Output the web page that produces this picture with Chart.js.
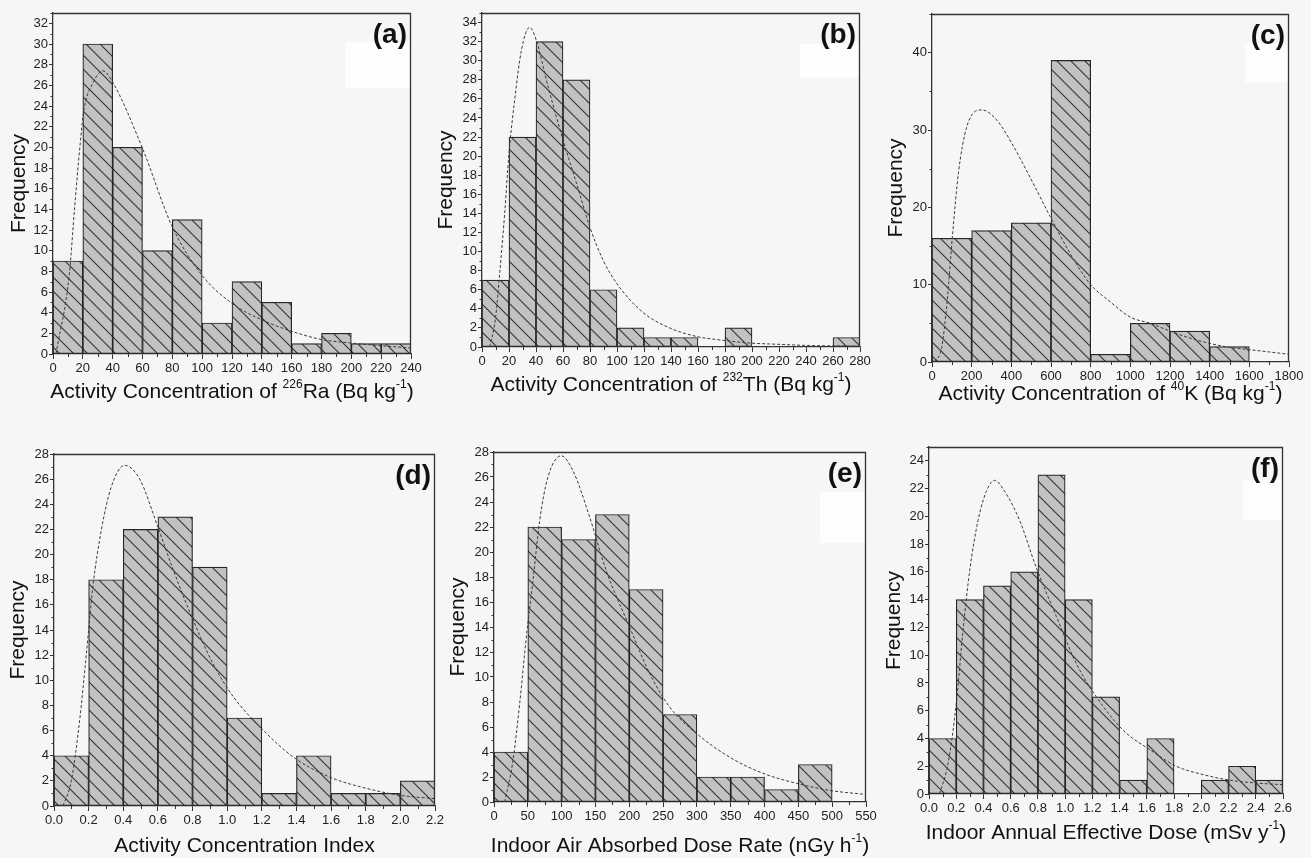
<!DOCTYPE html>
<html><head><meta charset="utf-8">
<script src="https://cdn.jsdelivr.net/npm/chart.js@4.4.1/dist/chart.umd.min.js"></script>
<style>
html,body{margin:0;padding:0;background:#f6f6f6;}
#wrap{position:relative;width:1311px;height:858px;overflow:hidden;background:#f6f6f6;}
canvas{position:absolute;}
</style></head><body><div id="wrap"></div>
<script>
// ---------- DATA ----------
// (a) 226Ra
const raEdges  = [0,20,40,60,80,100,120,140,160,180,200,220,240];
const raCounts = [9,30,20,10,13,3,7,5,1,2,1,1];
const raFitX = [2,11,14.5,18,20.6,27,33.5,40,60,80,100,120,140,160,180,200,220,240];
const raFitY = [0,7.8,14.2,20,23.5,26.3,27.4,26.3,19.9,12.3,7.6,4.9,3.3,2.2,1.4,1.06,0.8,0.58];
const raTitle = [['Activity Concentration of ',0],['226',1],['Ra (Bq kg',0],['-1',1],[')',0]];
// (b) 232Th
const thEdges  = [0,20,40,60,80,100,120,140,160,180,200,220,240,260,280];
const thCounts = [7,22,32,28,6,2,1,1,0,2,0,0,0,1];
const thFitX = [5.7,9.9,13.1,16.8,20,24.2,29.2,35.3,40.3,48.9,60,69.9,79.8,89.7,99.6,119.4,139,159,178.7,198,220,240,280];
const thFitY = [0,2.9,7.7,14,20.3,25.9,31.1,33.5,32.1,27.3,21.7,17.2,12.6,9.1,6.7,3.6,2.0,1.1,0.7,0.42,0.28,0.17,0.07];
const thTitle = [['Activity Concentration of ',0],['232',1],['Th (Bq kg',0],['-1',1],[')',0]];
// (c) 40K
const kEdges  = [0,200,400,600,800,1000,1200,1400,1600,1800];
const kCounts = [16,17,18,39,1,5,4,2,0];
const kFitX = [15,49,77,104,133,175,251,326,402,494,596,697,797,898,1000,1100,1200,1300,1400,1500,1600,1700,1800];
const kFitY = [0,1.9,8,16.6,24.4,30.4,32.6,31.3,28.3,23.9,18.8,14,10.1,7.8,5.8,5.0,4.0,3.1,2.4,1.9,1.6,1.3,1.0];
const kTitle = [['Activity Concentration of ',0],['40',1],['K (Bq kg',0],['-1',1],[')',0]];
// (d) Activity Concentration Index
const dEdges  = [0,0.2,0.4,0.6,0.8,1.0,1.2,1.4,1.6,1.8,2.0,2.2];
const dCounts = [4,18,22,23,19,7,1,4,1,1,2];
const dFitX = [0.052,0.1,0.148,0.187,0.225,0.274,0.331,0.408,0.495,0.592,0.688,0.803,0.919,1.035,1.189,1.381,1.593,1.805,1.998,2.2];
const dFitY = [0,2,6.8,12.1,17.5,22,25.4,27.1,26,22.5,18.8,14.8,11.3,8.7,6.3,3.9,2.3,1.4,0.85,0.58];
const dTitle = [['Activity Concentration Index',0]];
// (e) Indoor Air Absorbed Dose Rate
const eEdges  = [0,50,100,150,200,250,300,350,400,450,500];
const eCounts = [4,22,21,23,17,7,2,2,1,3];
const eFitX = [15.8,28,38,47.8,57.6,67.5,79.8,99.5,116.7,141.4,166,200.5,230,259.6,299,348,397.5,446.8,496,550];
const eFitY = [0,3.3,7.9,13.2,17.7,22.5,26,27.7,26.5,22.8,18.5,14,10.3,7.6,5.5,3.6,2.3,1.5,0.93,0.6];
const eTitle = [['Indoor Air Absorbed Dose Rate (nGy h',0],['-1',1],[')',0]];
// (f) Indoor Annual Effective Dose
const fEdges  = [0,0.2,0.4,0.6,0.8,1.0,1.2,1.4,1.6,1.8,2.0,2.2,2.4,2.6];
const fCounts = [4,14,15,16,23,14,7,1,4,0,1,2,1];
const fFitX = [0.078,0.14,0.2,0.25,0.299,0.36,0.421,0.482,0.556,0.666,0.788,0.935,1.082,1.229,1.425,1.621,1.816,2.012,2.208,2.404,2.6];
const fFitY = [0,2.2,6.5,11.8,16.1,19.7,21.8,22.6,21.8,19.7,16.3,12.8,9.4,7,4.6,3.2,2.0,1.4,1.0,0.79,0.67];
const fTitle = [['Indoor Annual Effective Dose (mSv y',0],['-1',1],[')',0]];

const panelLabels = ['(a)','(b)','(c)','(d)','(e)','(f)'];
const yTitleText = 'Frequency';

// ---------- LAYOUT / STYLE ----------
const panels = [
  {edges:raEdges,counts:raCounts,fx:raFitX,fy:raFitY,title:raTitle,xMax:240,xStep:20,yMax:33,yStep:2,dec:0,
   canvas:[0,0,440,425],area:[53,13,411,354],yTitleX:19,xGap:44,box:[345,42,410,88]},
  {edges:thEdges,counts:thCounts,fx:thFitX,fy:thFitY,title:thTitle,xMax:280,xStep:20,yMax:35,yStep:2,dec:0,
   canvas:[430,0,445,425],area:[482,13,860,347],yTitleX:446,xGap:44,box:[800,44,859,78]},
  {edges:kEdges,counts:kCounts,fx:kFitX,fy:kFitY,title:kTitle,xMax:1800,xStep:200,yMax:45,yStep:10,dec:0,
   canvas:[870,0,441,425],area:[932,14,1289,362],yTitleX:896,xGap:38,box:[1245,44,1288,82]},
  {edges:dEdges,counts:dCounts,fx:dFitX,fy:dFitY,title:dTitle,xMax:2.2,xStep:0.2,yMax:28,yStep:2,dec:1,
   canvas:[0,425,450,433],area:[54,454,435,806],yTitleX:18,xGap:46,box:null},
  {edges:eEdges,counts:eCounts,fx:eFitX,fy:eFitY,title:eTitle,xMax:550,xStep:50,yMax:28,yStep:2,dec:0,
   canvas:[430,425,450,433],area:[494,452,866,802],yTitleX:458,xGap:50,box:[820,492,865,543]},
  {edges:fEdges,counts:fCounts,fx:fFitX,fy:fFitY,title:fTitle,xMax:2.6,xStep:0.2,yMax:25,yStep:2,dec:1,
   canvas:[870,425,441,433],area:[929,447,1283,794],yTitleX:894,xGap:45,box:[1243,480,1282,520]}
];

const FONT = '"Liberation Sans", Arial, Helvetica, sans-serif';
const AXIS = '#333333';

function makeHatch(ctx){
  const s = 14;
  const c = document.createElement('canvas'); c.width = s; c.height = s;
  const g = c.getContext('2d');
  g.fillStyle = '#c2c2c2'; g.fillRect(0,0,s,s);
  g.strokeStyle = '#333333'; g.lineWidth = 1.1;
  g.beginPath();
  g.moveTo(-1,-1); g.lineTo(s+1,s+1);
  g.moveTo(-1,s-1); g.lineTo(1,s+1);
  g.moveTo(s-1,-1); g.lineTo(s+1,1);
  g.stroke();
  return ctx.createPattern(c,'repeat');
}

function drawRich(ctx, parts, cx, baseline, size){
  const big = size + 'px ' + FONT, small = Math.round(size*0.58) + 'px ' + FONT;
  let total = 0; const ws = [];
  parts.forEach(p => { ctx.font = p[1] ? small : big; const w = ctx.measureText(p[0]).width; ws.push(w); total += w; });
  let x = cx - total/2;
  ctx.textAlign = 'left'; ctx.textBaseline = 'alphabetic';
  parts.forEach((p,i) => {
    ctx.font = p[1] ? small : big;
    ctx.fillText(p[0], x, p[1] ? baseline - size*0.5 : baseline);
    x += ws[i];
  });
}

const decor = {
  id: 'decor',
  beforeDatasetsDraw(chart, args, o){
    if (!o.box) return;
    const ctx = chart.ctx;
    ctx.save(); ctx.fillStyle = '#fdfdfd';
    ctx.fillRect(o.box[0]-o.ox, o.box[1]-o.oy, o.box[2]-o.box[0], o.box[3]-o.box[1]);
    ctx.restore();
  },
  afterDraw(chart, args, o){
    const {ctx, chartArea:a, scales:{x, y}} = chart;
    ctx.save();
    ctx.strokeStyle = AXIS; ctx.lineWidth = 1.3;
    ctx.beginPath();
    ctx.moveTo(a.left, Math.round(a.top)+0.5); ctx.lineTo(a.right, Math.round(a.top)+0.5);
    ctx.moveTo(Math.round(a.right)-0.5, a.top); ctx.lineTo(Math.round(a.right)-0.5, a.bottom);
    ctx.stroke();
    ctx.lineWidth = 1;
    ctx.beginPath();
    // minor ticks
    for (let k = 0; k * o.xStep < o.xMax - 1e-9; k++){
      const px = Math.round(x.getPixelForValue(k*o.xStep + o.xStep/2)) + 0.5;
      ctx.moveTo(px, a.bottom); ctx.lineTo(px, a.bottom + 3);
    }
    for (let k = 0; k * o.yStep < o.yMax - 1e-9; k++){
      const py = Math.round(y.getPixelForValue(k*o.yStep + o.yStep/2)) + 0.5;
      ctx.moveTo(a.left, py); ctx.lineTo(a.left - 2.5, py);
    }
    ctx.stroke();
    // x title
    ctx.fillStyle = '#111';
    drawRich(ctx, o.title, (a.left + a.right)/2, a.bottom + o.xGap, 21);
    // y title
    ctx.save();
    ctx.translate(o.yTitleX - o.ox, (a.top + a.bottom)/2);
    ctx.rotate(-Math.PI/2);
    ctx.font = '21px ' + FONT; ctx.textAlign = 'center'; ctx.textBaseline = 'middle';
    ctx.fillText(yTitleText, 0, 0);
    ctx.restore();
    // panel label
    ctx.font = 'bold 28px ' + FONT; ctx.textAlign = 'right'; ctx.textBaseline = 'alphabetic';
    ctx.fillText(o.label, a.right - 4, a.top + 30);
    ctx.restore();
  }
};

const wrap = document.getElementById('wrap');
panels.forEach((p, idx) => {
  const [cl, ct, cw, ch] = p.canvas;
  const [al, at, ar, ab] = p.area;
  const cv = document.createElement('canvas');
  cv.width = cw; cv.height = ch;
  cv.style.left = cl + 'px'; cv.style.top = ct + 'px';
  cv.style.width = cw + 'px'; cv.style.height = ch + 'px';
  wrap.appendChild(cv);
  const ctx = cv.getContext('2d');
  const hatch = makeHatch(ctx);
  const bars = p.counts.map((c, i) => ({x: (p.edges[i] + p.edges[i+1]) / 2, y: c}));
  const fit = p.fx.map((v, i) => ({x: v, y: p.fy[i]}));
  new Chart(ctx, {
    type: 'bar',
    data: { datasets: [
      { type: 'line', data: fit, borderColor: '#3a3a3a', borderWidth: 1, borderDash: [3,2],
        pointRadius: 0, cubicInterpolationMode: 'monotone', fill: false, order: 0 },
      { type: 'bar', data: bars, backgroundColor: hatch, borderColor: '#262626', borderWidth: 1.2,
        borderSkipped: false, barPercentage: 1, categoryPercentage: 1, grouped: false, order: 1 }
    ]},
    options: {
      responsive: false, maintainAspectRatio: false, animation: false, devicePixelRatio: 1,
      layout: { padding: { left: 0, top: at - ct, right: (cl + cw) - ar, bottom: 0 } },
      plugins: { legend: {display: false}, tooltip: {enabled: false},
        decor: { title: p.title, xGap: p.xGap, yTitleX: p.yTitleX, ox: cl, oy: ct, label: panelLabels[idx],
                 xStep: p.xStep, xMax: p.xMax, yStep: p.yStep, yMax: p.yMax, box: p.box } },
      scales: {
        x: { type: 'linear', min: 0, max: p.xMax, offset: false,
             grid: { offset: false, drawOnChartArea: false, tickLength: 5, color: AXIS },
             border: { color: AXIS, width: 1.3 },
             ticks: { stepSize: p.xStep, includeBounds: false, autoSkip: false, maxRotation: 0, padding: 2,
                      color: '#222', font: { family: FONT, size: 13 },
                      callback: v => Number(v).toFixed(p.dec) },
             afterFit: s => { s.height = (ct + ch) - ab; } },
        y: { type: 'linear', min: 0, max: p.yMax,
             grid: { drawOnChartArea: false, tickLength: 4, color: AXIS },
             border: { color: AXIS, width: 1.3 },
             ticks: { stepSize: p.yStep, includeBounds: false, padding: 1, color: '#222',
                      font: { family: FONT, size: 13 } },
             afterFit: s => { s.width = al - cl; } }
      }
    },
    plugins: [decor]
  });
});
</script></body></html>
